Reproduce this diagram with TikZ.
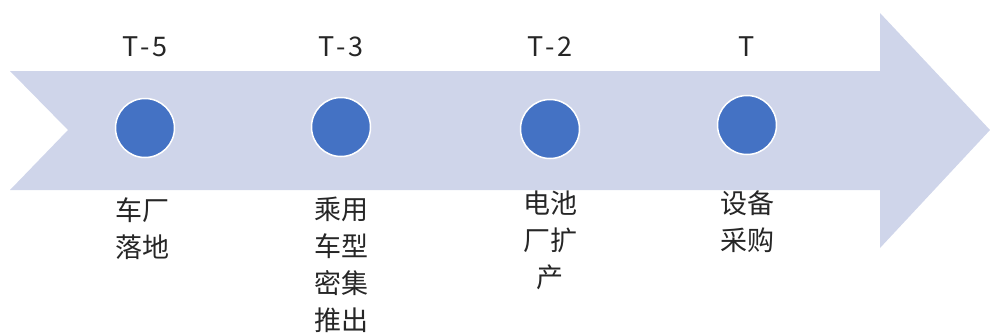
\documentclass[tikz,border=0pt]{standalone}
\usepackage{fontspec}
\setmainfont{Noto Sans CJK SC}
\definecolor{band}{HTML}{CFD5EA}
\definecolor{dot}{HTML}{4472C4}
\definecolor{txt}{HTML}{262626}
\newcommand{\tdash}{\kern2.5pt-\kern2.5pt}
\tikzset{
  dotnode/.style={circle, fill=dot, draw=white, line width=1.5pt, minimum size=59pt, inner sep=0pt},
  toplabel/.style={font=\fontsize{27}{30}\selectfont, text=txt, inner sep=0pt},
  botlabel/.style={font=\fontsize{27}{37}\selectfont, text=txt, inner sep=0pt, align=center, anchor=north}
}
\begin{document}
\begin{tikzpicture}[x=1pt,y=-1pt]
\useasboundingbox (0,0) rectangle (990,333);
\fill[band] (10,71) -- (880,71) -- (880,13) -- (990,130) -- (880,248) -- (880,190) -- (10,190) -- (68,130) -- cycle;
\node[dotnode] (d1) at (145,128) {};
\node[dotnode] (d2) at (341,127) {};
\node[dotnode] (d3) at (550,129) {};
\node[dotnode] (d4) at (747,125) {};
\node[toplabel] (t1) at (145,47) {T\tdash 5};
\node[toplabel] (t2) at (341,47) {T\tdash 3};
\node[toplabel] (t3) at (550,47) {T\tdash 2};
\node[toplabel] (t4) at (747,47) {T};
\node[botlabel] (b1) at (142,197) {车厂\\落地};
\node[botlabel] (b2) at (341,197) {乘用\\车型\\密集\\推出};
\node[botlabel] (b3) at (550,191) {电池\\厂扩\\产};
\node[botlabel] (b4) at (747,191) {设备\\采购};
\end{tikzpicture}
\end{document}
